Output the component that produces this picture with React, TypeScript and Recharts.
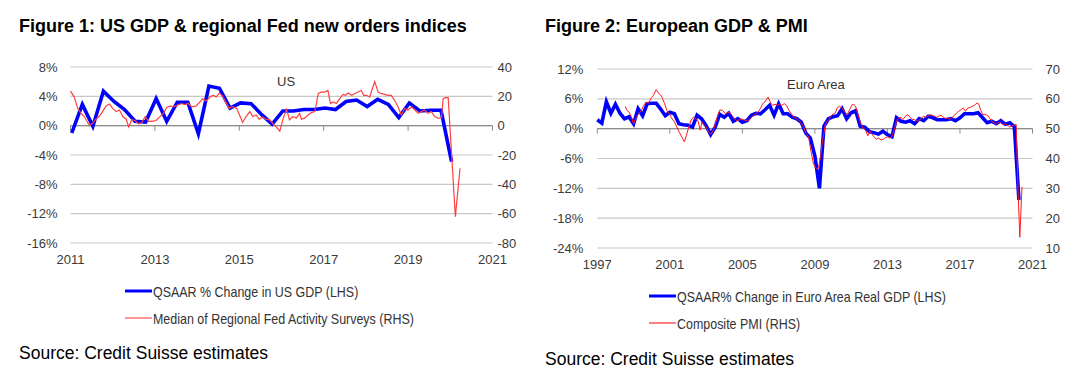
import React from 'react';
import { LineChart, Line, XAxis, YAxis, CartesianGrid, ReferenceLine } from 'recharts';

const FONT = "'Liberation Sans', Arial, Helvetica, sans-serif";

// ---- Figure 1: US ----
// QSAAR % change in US GDP, quarterly from 2011Q1
const usGdpFirstYear = 2011;
const usGdp = [
  -1.0, 2.9, -0.1, 4.7,
  3.3, 2.2, 0.6, 0.5,
  3.7, 0.6, 3.2, 3.2,
  -1.1, 5.4, 5.1, 2.4,
  3.1, 3.0, 1.5, 0.2,
  2.0, 2.0, 2.2, 2.2,
  2.4, 2.2, 3.3, 3.5,
  2.6, 3.6, 2.9, 1.1,
  3.1, 2.0, 2.1, 2.1,
  -4.9,
];

// Median of regional Fed activity surveys (RHS)
const usSurveyDates = [
  2011.0, 2011.09, 2011.17, 2011.25, 2011.33, 2011.38, 2011.45, 2011.53, 2011.6, 2011.68, 2011.76, 2011.84, 2011.92,
  2012.0, 2012.08, 2012.16, 2012.24, 2012.32, 2012.38, 2012.45, 2012.53, 2012.61, 2012.69, 2012.77, 2012.85, 2012.93,
  2013.03, 2013.12, 2013.2, 2013.28, 2013.36, 2013.44, 2013.54, 2013.63, 2013.71, 2013.79, 2013.87, 2013.97,
  2014.05, 2014.13, 2014.21, 2014.31, 2014.38, 2014.45, 2014.53, 2014.59, 2014.68, 2014.76, 2014.84, 2014.94,
  2015.02, 2015.08, 2015.16, 2015.25, 2015.32, 2015.4, 2015.47, 2015.55, 2015.63, 2015.72, 2015.8, 2015.88, 2015.96,
  2016.04, 2016.12, 2016.19, 2016.27, 2016.35, 2016.43, 2016.47, 2016.55, 2016.63, 2016.71, 2016.79, 2016.87, 2016.94,
  2017.02, 2017.1, 2017.16, 2017.22, 2017.3, 2017.38, 2017.46, 2017.52, 2017.58, 2017.66, 2017.73, 2017.81, 2017.89, 2017.95,
  2018.01, 2018.09, 2018.15, 2018.21, 2018.29, 2018.37, 2018.45, 2018.52, 2018.6, 2018.68, 2018.76, 2018.84, 2018.92,
  2019.0, 2019.08, 2019.16, 2019.24, 2019.31, 2019.39, 2019.47, 2019.55, 2019.63, 2019.71, 2019.79, 2019.83, 2019.89, 2019.95,
  2020.12, 2020.23,
];
const usSurveyValues = [
  23.5, 19.5, 11.8, 8.4, 6.2, 3.5, 0.0, 1.8, 4.4, 6.2, 9.6, 13.3, 14.7,
  11.8, 9.6, 10.7, 6.2, 4.4, -0.9, 4.0, 3.5, 1.3, 2.2, 6.2, 2.9, 2.9,
  3.5, 6.2, 8.4, 12.4, 13.3, 12.9, 14.0, 15.1, 14.4, 15.1, 12.9, 13.3,
  15.6, 18.4, 16.9, 19.5, 20.7, 19.5, 22.2, 20.7, 16.2, 11.8, 12.9, 11.8,
  6.2, 2.2, 6.2, 9.6, 6.2, 7.3, 4.4, 5.8, 4.4, 4.0, 1.3, -1.0, -3.8,
  5.0, 11.1, 4.0, 6.2, 5.1, 8.4, 4.4, 5.1, 7.3, 8.9, 9.6, 21.8, 22.9,
  22.9, 24.0, 15.1, 16.2, 15.1, 18.4, 21.3, 20.7, 22.2, 20.7, 21.8, 22.9, 24.0, 20.7,
  20.7, 19.6, 25.0, 30.0, 22.9, 21.8, 21.3, 20.7, 20.7, 17.3, 12.9, 7.3, 11.8,
  10.7, 12.9, 10.7, 8.4, 9.6, 10.7, 8.4, 9.6, 6.2, 5.1, 5.1, 18.4, 19.1, 19.1,
  -62.0, -29.0,
];

const usXTicks = [2011, 2013, 2015, 2017, 2019, 2021];
const usLhsTicks = [-16, -12, -8, -4, 0, 4, 8];
const usRhsTicks = [-80, -60, -40, -20, 0, 20, 40];

// ---- Figure 2: Euro Area ----
// QSAAR % change in euro area real GDP, quarter-end points from 1996Q4
const euroGdpFirstYear = 1997;
const euroGdp = [
  1.8, 1.1, 5.4, 3.1, 4.9, 3.1, 2.0, 2.4,
  1.0, 4.0, 2.6, 5.0, 5.1, 5.1, 3.9, 2.6,
  3.3, 3.0, 1.0, 0.8, 0.7, 0.3, 2.7, 2.0,
  0.6, -1.2, 0.3, 2.9, 2.3, 3.1, 1.5, 2.0,
  1.3, 1.6, 2.7, 3.1, 3.0, 3.8, 4.7, 2.7,
  5.0, 3.0, 3.0, 2.3, 2.0, 1.3, -0.9, -1.9,
  -5.5, -12.0, 0.5, 2.0, 2.4, 2.6, 4.0, 2.0,
  3.2, 3.6, 0.5, 0.3, -0.6, -0.8, -1.1, -0.5,
  -1.2, -1.6, 2.2, 1.5, 1.3, 1.6, 1.0, 2.0,
  1.6, 2.5, 2.2, 1.8, 1.8, 1.8, 2.0, 1.6,
  2.2, 3.0, 3.0, 3.0, 3.2, 2.2, 1.2, 1.5,
  1.0, 1.6, 0.9, 1.2, 0.4, -14.3,
];

// Composite PMI (RHS)
const euroPmiDates = [
  1998.54, 1998.64, 1998.76, 1998.88, 1999.0, 1999.13, 1999.28, 1999.43, 1999.56, 1999.68, 1999.83, 1999.98,
  2000.1, 2000.25, 2000.38, 2000.51, 2000.6, 2000.71, 2000.84, 2000.97,
  2001.12, 2001.26, 2001.39, 2001.52, 2001.67, 2001.8, 2001.91,
  2002.04, 2002.17, 2002.31, 2002.44, 2002.55, 2002.68, 2002.77, 2002.9,
  2003.01, 2003.14, 2003.27, 2003.38, 2003.51, 2003.64, 2003.76, 2003.91,
  2004.06, 2004.19, 2004.32, 2004.44, 2004.57, 2004.7, 2004.83, 2004.96,
  2005.09, 2005.22, 2005.35, 2005.47, 2005.6, 2005.73, 2005.86, 2005.99,
  2006.12, 2006.25, 2006.41, 2006.54, 2006.67, 2006.8, 2006.93,
  2007.06, 2007.18, 2007.31, 2007.44, 2007.57, 2007.7, 2007.83,
  2008.0, 2008.1, 2008.25, 2008.38, 2008.5, 2008.65, 2008.78, 2008.91,
  2009.02, 2009.12, 2009.22, 2009.32, 2009.42, 2009.5, 2009.58, 2009.77, 2009.95,
  2010.13, 2010.22, 2010.35, 2010.5, 2010.65, 2010.78, 2010.92,
  2011.05, 2011.14, 2011.24, 2011.38, 2011.51, 2011.64, 2011.79, 2011.92,
  2012.03, 2012.16, 2012.28, 2012.41, 2012.52, 2012.65, 2012.78, 2012.89,
  2013.02, 2013.15, 2013.26, 2013.39, 2013.5, 2013.63, 2013.75, 2013.86,
  2014.0, 2014.12, 2014.25, 2014.36, 2014.49, 2014.6, 2014.73, 2014.86, 2014.99,
  2015.1, 2015.23, 2015.35, 2015.46, 2015.59, 2015.72, 2015.83, 2015.96,
  2016.09, 2016.2, 2016.33, 2016.46, 2016.57, 2016.7, 2016.82, 2016.93,
  2017.06, 2017.19, 2017.3, 2017.43, 2017.56, 2017.67, 2017.8, 2017.93,
  2018.04, 2018.13, 2018.26, 2018.39, 2018.52, 2018.63, 2018.75, 2018.88, 2018.99,
  2019.12, 2019.25, 2019.36, 2019.49, 2019.62, 2019.73, 2019.86, 2019.99,
  2020.1, 2020.2, 2020.3, 2020.42,
];
const euroPmiValues = [
  57.5, 56.1, 55.5, 53.9, 51.6, 53.6, 55.0, 56.1, 57.8, 58.9, 58.6, 60.4,
  61.2, 63.1, 61.8, 61.2, 60.1, 58.4, 56.1, 55.0,
  53.3, 52.2, 50.5, 48.8, 47.1, 45.6, 47.6,
  50.5, 52.9, 53.9, 53.3, 52.7, 49.5, 52.2, 51.0,
  50.5, 48.8, 48.2, 49.3, 51.6, 54.4, 56.3, 56.1,
  55.0, 55.5, 55.2, 54.4, 53.3, 52.7, 52.9, 53.3,
  52.9, 52.7, 52.9, 53.6, 54.4, 55.0, 55.5, 56.7,
  58.4, 59.0, 60.6, 58.9, 57.8, 58.2, 57.8,
  58.2, 57.8, 58.4, 57.8, 56.1, 55.0, 53.9,
  53.3, 52.9, 51.8, 50.5, 48.4, 47.3, 42.5, 38.5,
  37.0, 36.5, 37.5, 41.0, 46.0, 48.5, 51.6, 53.1, 54.7,
  55.3, 56.9, 57.5, 56.9, 55.6, 54.7, 56.4,
  58.0, 58.2, 57.5, 54.7, 52.0, 50.3, 49.5, 47.6,
  49.2, 48.1, 47.0, 46.5, 46.8, 46.2, 46.5, 47.0,
  47.3, 46.8, 47.6, 49.8, 52.5, 53.6, 53.8, 53.1,
  54.2, 54.7, 53.8, 53.1, 53.1, 52.5, 52.7, 53.4, 54.2,
  53.8, 54.2, 54.7, 54.5, 54.2, 53.8, 54.2, 54.5,
  53.8, 53.4, 53.6, 53.1, 53.8, 54.5, 55.3, 55.8,
  56.4, 56.9, 55.8, 56.9, 57.1, 57.5, 57.8, 58.6,
  58.2, 56.4, 54.7, 54.7, 54.5, 53.6, 52.5, 52.0, 51.4,
  52.0, 52.0, 51.4, 51.6, 51.2, 50.5, 50.9, 51.2,
  51.4, 29.7, 13.6, 30.5,
];

const euroXTicks = [1997, 2001, 2005, 2009, 2013, 2017, 2021];
const euroLhsTicks = [-24, -18, -12, -6, 0, 6, 12];
const euroRhsTicks = [10, 20, 30, 40, 50, 60, 70];

const usGdpData = usGdp.map((v, i) => ({ x: usGdpFirstYear + i * 0.25 + 0.03, gdp: v }));
const usSurveyData = usSurveyDates.map((d, i) => ({ x: d, survey: usSurveyValues[i] }));
const euroGdpData = euroGdp.map((v, i) => ({ x: euroGdpFirstYear + i * 0.25, gdp: v }));
const euroPmiData = euroPmiDates.map((d, i) => ({ x: d, pmi: euroPmiValues[i] }));

const BLUE = '#0000ff';
const tickStyle = { fontSize: 13, fill: '#3a3a3a', fontFamily: FONT };
const pct = (v: number) => `${v}%`;

// legend text is a narrow face in the original; squeeze a regular one
function LegendBlock({ items, left, top }: { items: { label: string; color: string; width: number }[]; left: number; top: number }) {
  return (
    <div style={{ position: 'absolute', left, top }}>
      {items.map((it) => (
        <div key={it.label} style={{ display: 'flex', alignItems: 'center', height: 27 }}>
          <svg width={27} height={6} style={{ display: 'block' }}>
            <line x1={0} x2={27} y1={3} y2={3} stroke={it.color} strokeWidth={it.width} />
          </svg>
          <span style={{
            display: 'inline-block', fontSize: 15, color: '#333', marginLeft: 1, whiteSpace: 'nowrap',
            transform: 'scaleX(0.83)', transformOrigin: 'left center',
          }}>
            {it.label}
          </span>
        </div>
      ))}
    </div>
  );
}

const titleStyle: React.CSSProperties = {
  position: 'absolute', top: 17, fontSize: 18, fontWeight: 'bold', lineHeight: '18px', whiteSpace: 'nowrap', color: '#000',
};
const sourceStyle: React.CSSProperties = {
  position: 'absolute', fontSize: 17.5, lineHeight: '18px', whiteSpace: 'nowrap', color: '#000',
};
const noteStyle: React.CSSProperties = {
  position: 'absolute', fontSize: 13, lineHeight: '13px', color: '#333', whiteSpace: 'nowrap',
};

export default function App() {
  return (
    <div style={{ position: 'absolute', left: 0, top: 0, width: 1079, height: 381, background: '#fff', fontFamily: FONT, overflow: 'hidden' }}>
      <div style={{ ...titleStyle, left: 19 }}>Figure 1: US GDP &amp; regional Fed new orders indices</div>
      <div style={{ ...titleStyle, left: 545 }}>Figure 2: European GDP &amp; PMI</div>

      {/* Figure 1 */}
      <div style={{ position: 'absolute', left: 0, top: 0 }}>
        <LineChart width={540} height={280} margin={{ top: 67, right: 7.5, left: 0.5, bottom: 7 }}>
          <CartesianGrid yAxisId="l" vertical={false} stroke="#c8c8c8" strokeWidth={1.2} />
          <XAxis type="number" dataKey="x" domain={[2011, 2021]} ticks={usXTicks} interval={0}
            axisLine={false} tickLine={false} tickSize={0} tickMargin={12} height={30} tick={tickStyle} />
          <YAxis yAxisId="l" domain={[-16, 8]} ticks={usLhsTicks} interval={0} tickFormatter={pct}
            axisLine={false} tickLine={false} tickSize={0} tickMargin={13} width={70} tick={tickStyle} />
          <YAxis yAxisId="r" orientation="right" domain={[-80, 40]} ticks={usRhsTicks} interval={0}
            axisLine={false} tickLine={false} tickSize={0} tickMargin={5} width={40} tick={tickStyle} />
          <ReferenceLine yAxisId="l" y={0} stroke="#8c8c8c" strokeWidth={1.2} />
          {usXTicks.map((t) => (
            <ReferenceLine key={t} yAxisId="l" segment={[{ x: t, y: 0 }, { x: t, y: -0.7 }]} stroke="#8c8c8c" />
          ))}
          <Line yAxisId="l" data={usGdpData} dataKey="gdp" type="linear" stroke={BLUE} strokeWidth={3.6}
            dot={false} activeDot={false} isAnimationActive={false} />
          <Line yAxisId="r" data={usSurveyData} dataKey="survey" type="linear" stroke="#ff4040" strokeWidth={1.2}
            dot={false} activeDot={false} isAnimationActive={false} />
        </LineChart>
      </div>
      <div style={{ ...noteStyle, left: 277, top: 75 }}>US</div>
      <LegendBlock left={125} top={277.5} items={[
        { label: 'QSAAR % Change in US GDP (LHS)', color: BLUE, width: 3 },
        { label: 'Median of Regional Fed Activity Surveys (RHS)', color: '#ff5050', width: 1.2 },
      ]} />
      <div style={{ ...sourceStyle, left: 19, top: 344 }}>Source: Credit Suisse estimates</div>

      {/* Figure 2 */}
      <div style={{ position: 'absolute', left: 540, top: 0 }}>
        <LineChart width={539} height={285} margin={{ top: 69, right: 6.5, left: 0.3, bottom: 7 }}>
          <CartesianGrid yAxisId="l" vertical={false} stroke="#c8c8c8" strokeWidth={1.2} />
          <XAxis type="number" dataKey="x" domain={[1997, 2021]} ticks={euroXTicks} interval={0}
            axisLine={false} tickLine={false} tickSize={0} tickMargin={12} height={30} tick={tickStyle} />
          <YAxis yAxisId="l" domain={[-24, 12]} ticks={euroLhsTicks} interval={0} tickFormatter={pct}
            axisLine={false} tickLine={false} tickSize={0} tickMargin={14} width={57} tick={tickStyle} />
          <YAxis yAxisId="r" orientation="right" domain={[10, 70]} ticks={euroRhsTicks} interval={0}
            axisLine={false} tickLine={false} tickSize={0} tickMargin={13} width={40} tick={tickStyle} />
          <ReferenceLine yAxisId="l" y={0} stroke="#8c8c8c" strokeWidth={1.2} />
          {euroXTicks.map((t) => (
            <ReferenceLine key={t} yAxisId="l" segment={[{ x: t, y: 0 }, { x: t, y: -1 }]} stroke="#8c8c8c" />
          ))}
          <Line yAxisId="l" data={euroGdpData} dataKey="gdp" type="linear" stroke={BLUE} strokeWidth={3.6}
            dot={false} activeDot={false} isAnimationActive={false} />
          <Line yAxisId="r" data={euroPmiData} dataKey="pmi" type="linear" stroke="#ff1a1a" strokeWidth={1}
            dot={false} activeDot={false} isAnimationActive={false} />
        </LineChart>
      </div>
      <div style={{ ...noteStyle, left: 787, top: 78 }}>Euro Area</div>
      <LegendBlock left={649} top={282.5} items={[
        { label: 'QSAAR% Change in Euro Area Real GDP (LHS)', color: BLUE, width: 3 },
        { label: 'Composite PMI (RHS)', color: '#ff0000', width: 1 },
      ]} />
      <div style={{ ...sourceStyle, left: 545, top: 350 }}>Source: Credit Suisse estimates</div>
    </div>
  );
}
